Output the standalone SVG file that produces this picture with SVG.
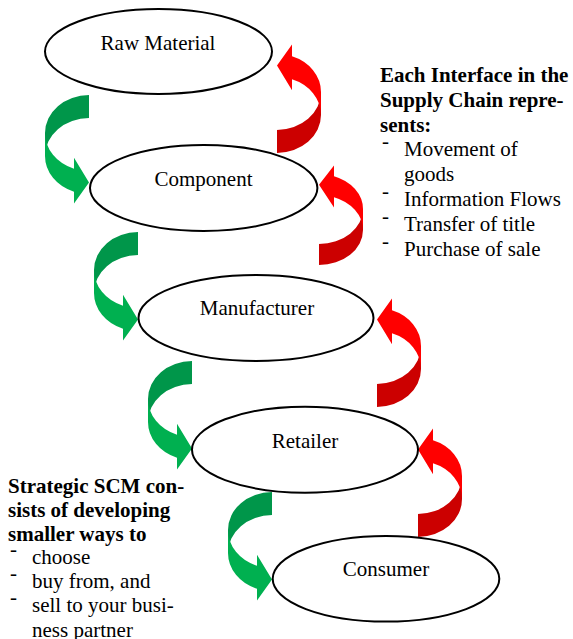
<svg xmlns="http://www.w3.org/2000/svg" width="573" height="639" viewBox="0 0 573 639">
<style>
  .bg { fill: #ffffff; }
  .node ellipse { fill: #ffffff; stroke: #000000; stroke-width: 2; }
  .lbl { font-family: "Liberation Serif", "Times New Roman", serif; font-size: 21px; fill: #000000; }
  .node text { text-anchor: middle; }
  .b { font-weight: bold; }
  .gback { fill: #00964A; }
  .gfront { fill: #00B050; }
  .rback { fill: #CC0000; }
  .rfront { fill: #FF0000; }
</style>
<defs>
  <g id="carrowG">
    <path class="gback" d="M44,0 A44,38 0 0 0 0,38 L0,61 A44,38 0 0 1 44,23 Z"/>
    <path class="gfront" d="M0,38 A44,38 0 0 0 29,73.7 L29,62.7 L44,87.5 L29,108.5 L29,96.7 A44,38 0 0 1 0,61 Z"/>
  </g>
  <g id="carrowR">
    <path class="rback" d="M44,0 A44,38 0 0 0 0,38 L0,61 A44,38 0 0 1 44,23 Z"/>
    <path class="rfront" d="M0,38 A44,38 0 0 0 29,73.7 L29,62.7 L44,87.5 L29,108.5 L29,96.7 A44,38 0 0 1 0,61 Z"/>
  </g>
</defs>
<rect class="bg" x="0" y="0" width="573" height="639"/>

<g id="connectors">
  <use href="#carrowG" transform="translate(45,95)"/>
  <use href="#carrowG" transform="translate(94,232)"/>
  <use href="#carrowG" transform="translate(148,361)"/>
  <use href="#carrowG" transform="translate(228,492)"/>
  <use href="#carrowR" transform="translate(321,153) rotate(180)"/>
  <use href="#carrowR" transform="translate(363,265) rotate(180) scale(1,0.918)"/>
  <use href="#carrowR" transform="translate(421,407) rotate(180)"/>
  <use href="#carrowR" transform="translate(462,537) rotate(180)"/>
</g>

<g id="raw-material" class="node">
  <ellipse cx="158.5" cy="51.5" rx="113.5" ry="42.5"/>
  <text class="lbl" x="158" y="50">Raw Material</text>
</g>
<g id="component" class="node">
  <ellipse cx="203.7" cy="188" rx="113.7" ry="43"/>
  <text class="lbl" x="203.5" y="186">Component</text>
</g>
<g id="manufacturer" class="node">
  <ellipse cx="256" cy="318" rx="117.5" ry="43"/>
  <text class="lbl" x="257" y="315">Manufacturer</text>
</g>
<g id="retailer" class="node">
  <ellipse cx="305" cy="449.7" rx="113" ry="43"/>
  <text class="lbl" x="305" y="447.5">Retailer</text>
</g>
<g id="consumer" class="node">
  <ellipse cx="386" cy="578.8" rx="113.3" ry="42.8"/>
  <text class="lbl" x="386" y="576">Consumer</text>
</g>

<g id="interface-note">
  <text class="lbl b" x="380" y="82">Each Interface in the</text>
  <text class="lbl b" x="380" y="107">Supply Chain repre-</text>
  <text class="lbl b" x="380" y="132">sents:</text>
  <text class="lbl" x="382" y="148">-</text>
  <text class="lbl" x="404" y="156">Movement of</text>
  <text class="lbl" x="404" y="181">goods</text>
  <text class="lbl" x="382" y="198">-</text>
  <text class="lbl" x="404" y="206">Information Flows</text>
  <text class="lbl" x="382" y="223">-</text>
  <text class="lbl" x="404" y="231">Transfer of title</text>
  <text class="lbl" x="382" y="248">-</text>
  <text class="lbl" x="404" y="256">Purchase of sale</text>
</g>

<g id="strategy-note">
  <text class="lbl b" x="8" y="493">Strategic SCM con-</text>
  <text class="lbl b" x="8" y="517">sists of developing</text>
  <text class="lbl b" x="8" y="541">smaller ways to</text>
  <text class="lbl" x="10" y="556">-</text>
  <text class="lbl" x="32" y="564">choose</text>
  <text class="lbl" x="10" y="580">-</text>
  <text class="lbl" x="32" y="588">buy from, and</text>
  <text class="lbl" x="10" y="604">-</text>
  <text class="lbl" x="32" y="612">sell to your busi-</text>
  <text class="lbl" x="32" y="637">ness partner</text>
</g>
</svg>
